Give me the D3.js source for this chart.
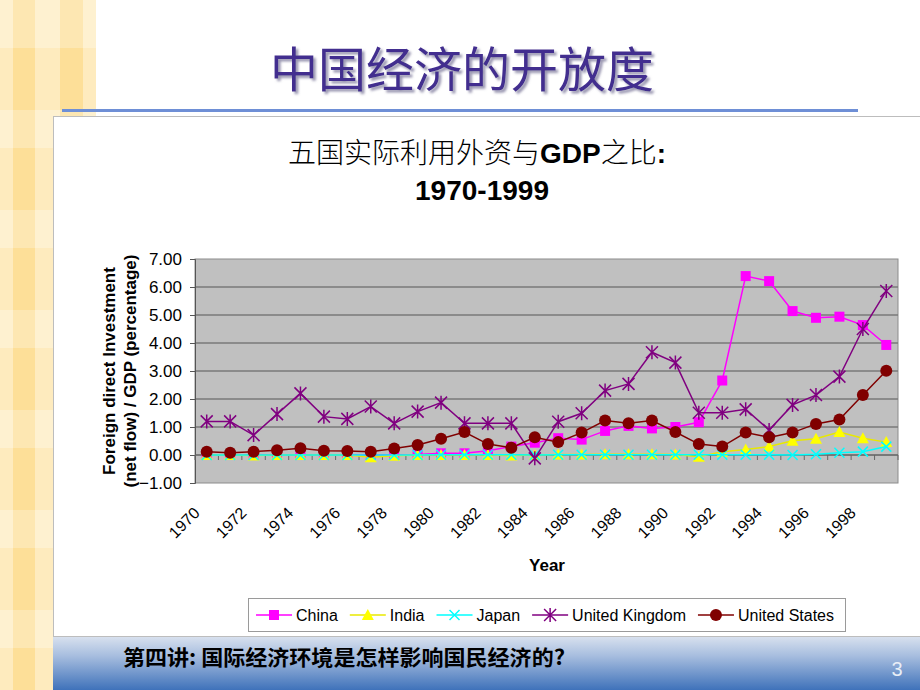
<!DOCTYPE html>
<html><head><meta charset="utf-8">
<script src="https://cdn.jsdelivr.net/npm/d3@7/dist/d3.min.js"></script>
<style>html,body{margin:0;padding:0;background:#fff;}svg{display:block;}</style>
</head><body>
<script>
const years = d3.range(1970, 2000);
const tickYears = [1970,1972,1974,1976,1978,1980,1982,1984,1986,1988,1990,1992,1994,1996,1998];
const yTicks = [-1,0,1,2,3,4,5,6,7];
const china = [0,0,0,0,0,0,0,0,0,0.02,0.06,0.06,0.15,0.3,0.44,0.6,0.55,0.86,1.04,0.95,1.0,1.17,2.66,6.39,6.21,5.14,4.9,4.94,4.64,3.93];
const india = [0,0,-0.02,0,0,0,0,-0.08,-0.03,0,0,0,0,-0.02,0,0.02,0.02,0.03,0.03,0.03,0.02,-0.06,0.12,0.2,0.3,0.51,0.58,0.82,0.6,0.46];
const japan = [0,0,0,0,0,0,0,0,0,0,0.01,0.01,0.01,0.01,0.0,0.01,0.01,0.01,0.01,0.01,0.01,0.01,0.01,0.01,0.01,0.0,0.03,0.08,0.12,0.3];
const uk = [1.2,1.2,0.71,1.46,2.2,1.37,1.29,1.73,1.13,1.55,1.87,1.13,1.13,1.13,-0.12,1.19,1.49,2.3,2.54,3.67,3.3,1.51,1.51,1.63,0.89,1.79,2.14,2.8,4.5,5.86];
const us = [0.12,0.08,0.12,0.17,0.24,0.15,0.14,0.12,0.23,0.36,0.58,0.82,0.39,0.26,0.63,0.46,0.8,1.23,1.13,1.23,0.82,0.39,0.3,0.8,0.63,0.8,1.11,1.27,2.14,3.01];
const seriesNames = ["China","India","Japan","United Kingdom","United States"];
const seriesColors = ["#FF00FF","#E8E800","#00FFFF","#800080","#800000"];
const seriesValues = [china, india, japan, uk, us];
const markers = ["square","triangle","x","star","circle"];

const W = 920, H = 690;
const svg = d3.select("body").append("svg").attr("width", W).attr("height", H);
const defs = svg.append("defs");
const f = defs.append("filter").attr("id","shadow").attr("x","-10%").attr("y","-10%").attr("width","120%").attr("height","130%");
f.append("feDropShadow").attr("dx",2.5).attr("dy",2.5).attr("stdDeviation",0.8).attr("flood-color","#8E8AA8").attr("flood-opacity",0.9);

// left decorative stripe
const stripeG = svg.append("g");
stripeG.append("rect").attr("x",0).attr("y",0).attr("width",96).attr("height",H).attr("fill","#FEF1D0");
[[13,22],[60,23]].forEach(([x,w])=>{
  stripeG.append("rect").attr("x",x).attr("y",0).attr("width",w).attr("height",H).attr("fill","#FDE7B2");
  d3.range(48, H, 100).forEach(y=>{
    stripeG.append("rect").attr("x",x).attr("y",y).attr("width",w).attr("height",62).attr("fill","#FDDF98");
  });
});
[[0,13],[35,25],[83,13]].forEach(([x,w])=>{
  d3.range(48, H, 100).forEach(y=>{
    stripeG.append("rect").attr("x",x).attr("y",y).attr("width",w).attr("height",62).attr("fill","#FEEBBE");
  });
});

// slide title
svg.append("text").attr("x",462).attr("y",87).attr("text-anchor","middle").attr("fill","#432E8F")
  .attr("filter","url(#shadow)")
  .style("font-family","'Noto Sans CJK SC'").style("font-size","48px").style("font-weight","400")
  .text("中国经济的开放度");

// blue rule
svg.append("rect").attr("x",62).attr("y",109).attr("width",796).attr("height",3).attr("fill","#6E8FD6");

// chart box
svg.append("rect").attr("x",53.5).attr("y",116.5).attr("width",880).attr("height",520).attr("fill","#fff").attr("stroke","#BDBDBD");

// bottom bar
const grad = defs.append("linearGradient").attr("id","bar").attr("x1",0).attr("y1",0).attr("x2",0).attr("y2",1);
grad.append("stop").attr("offset","0%").attr("stop-color","#D7E0EE");
grad.append("stop").attr("offset","35%").attr("stop-color","#A8BEDF");
grad.append("stop").attr("offset","100%").attr("stop-color","#3F72BA");
svg.append("rect").attr("x",53).attr("y",637).attr("width",W-53).attr("height",H-637).attr("fill","url(#bar)");
svg.append("text").attr("x",123).attr("y",665).attr("textLength",442).attr("lengthAdjust","spacingAndGlyphs")
  .style("font-family","'Noto Sans CJK SC'").style("font-size","21px").style("font-weight","bold").attr("fill","#000")
  .text("第四讲: 国际经济环境是怎样影响国民经济的?");
svg.append("text").attr("x",897).attr("y",676).attr("text-anchor","middle")
  .style("font-family","Arial, 'Liberation Sans'").style("font-size","20px").attr("fill","#E8EEF6").text("3");

// chart titles
const ct = svg.append("text").attr("x",477).attr("y",163).attr("text-anchor","middle").style("font-size","28px").attr("fill","#000");
ct.append("tspan").style("font-family","'Noto Sans CJK SC'").style("font-weight","300").text("五国实际利用外资与");
ct.append("tspan").style("font-family","Arial, 'Liberation Sans'").style("font-weight","bold").text("GDP");
ct.append("tspan").style("font-family","'Noto Sans CJK SC'").style("font-weight","300").text("之比");
ct.append("tspan").style("font-family","Arial, 'Liberation Sans'").style("font-weight","bold").text(":");
svg.append("text").attr("x",482).attr("y",200).attr("text-anchor","middle")
  .style("font-family","Arial, 'Liberation Sans'").style("font-size","28px").style("font-weight","bold").text("1970-1999");

// plot
const L = 195, R = 898, T = 259, B = 483;
const x = d3.scaleBand().domain(years).range([L, R]);
const xc = d => x(d) + x.bandwidth()/2;
const y = d3.scaleLinear().domain([-1, 7]).range([B, T]);

svg.append("rect").attr("x",L).attr("y",T).attr("width",R-L).attr("height",B-T).attr("fill","#C0C0C0").attr("stroke","#8C8C8C");
svg.append("g").selectAll("line").data(yTicks.filter(v=>v>-1 && v<7)).join("line")
  .attr("x1",L).attr("x2",R).attr("y1",d=>y(d)).attr("y2",d=>y(d)).attr("stroke","#7A7A7A").attr("stroke-width",1.5);

const font = "Arial, 'Liberation Sans', sans-serif";
const yAxis = svg.append("g").attr("transform",`translate(${L},0)`)
  .call(d3.axisLeft(y).tickValues(yTicks).tickFormat(d3.format(".2f")).tickSize(5).tickPadding(8));
yAxis.select(".domain").attr("stroke","#555");
yAxis.selectAll(".tick line").attr("stroke","#555");
yAxis.selectAll("text").style("font-family",font).style("font-size","17px").attr("fill","#000");

// x axis at zero
const xAxis = svg.append("g").attr("transform",`translate(0,${y(0)})`);
xAxis.append("line").attr("x1",L).attr("x2",R).attr("stroke","#666");
xAxis.selectAll("line.t").data(years.concat([2000])).join("line").attr("class","t")
  .attr("x1",(d,i)=> i<30 ? x(d) : R).attr("x2",(d,i)=> i<30 ? x(d) : R).attr("y1",0).attr("y2",5).attr("stroke","#666");
svg.append("g").selectAll("text").data(tickYears).join("text")
  .attr("transform",d=>`translate(${xc(d)-10},${510}) rotate(-45)`)
  .attr("text-anchor","end").attr("dy","0.35em")
  .style("font-family",font).style("font-size","16px").text(d=>d);
svg.append("text").attr("x",547).attr("y",571).attr("text-anchor","middle")
  .style("font-family",font).style("font-size","17px").style("font-weight","bold").text("Year");

// y title
const yt = svg.append("text").attr("transform",`translate(110,${(T+B)/2}) rotate(-90)`).attr("text-anchor","middle")
  .style("font-family",font).style("font-size","17px").style("font-weight","bold");
yt.append("tspan").attr("x",0).attr("dy","0.3em").text("Foreign direct Investment");
yt.append("tspan").attr("x",0).attr("dy","1.25em").text("(net flow) / GDP (percentage)");

// marker drawing
function drawMarker(g, type, color, cx, cy) {
  if (type==="square") {
    g.append("rect").attr("x",cx-5).attr("y",cy-5).attr("width",10).attr("height",10).attr("fill",color);
  } else if (type==="triangle") {
    g.append("path").attr("d",`M${cx},${cy-6}L${cx+6},${cy+5}L${cx-6},${cy+5}Z`).attr("fill","#FFFF00");
  } else if (type==="x") {
    g.append("path").attr("d",`M${cx-5},${cy-5}L${cx+5},${cy+5}M${cx-5},${cy+5}L${cx+5},${cy-5}`).attr("stroke",color).attr("stroke-width",1.5);
  } else if (type==="star") {
    g.append("path").attr("d",`M${cx-6},${cy-6}L${cx+6},${cy+6}M${cx-6},${cy+6}L${cx+6},${cy-6}M${cx},${cy-7}L${cx},${cy+7}`).attr("stroke",color).attr("stroke-width",1.5);
  } else {
    g.append("circle").attr("cx",cx).attr("cy",cy).attr("r",6).attr("fill",color);
  }
}

const line = d3.line().x((d,i)=>xc(years[i])).y(d=>y(d));
seriesValues.forEach((vals, si) => {
  const g = svg.append("g");
  g.append("path").datum(vals).attr("d",line).attr("fill","none").attr("stroke",seriesColors[si]).attr("stroke-width",1.5);
  vals.forEach((v,i)=>drawMarker(g, markers[si], seriesColors[si], xc(years[i]), y(v)));
});

// legend
const lg = svg.append("g");
lg.append("rect").attr("x",248.5).attr("y",598.5).attr("width",597).attr("height",33).attr("fill","#fff").attr("stroke","#9A9A9A");
let lx = 256;
seriesNames.forEach((n, si) => {
  lg.append("line").attr("x1",lx).attr("x2",lx+36).attr("y1",615).attr("y2",615).attr("stroke",seriesColors[si]).attr("stroke-width",1.5);
  drawMarker(lg, markers[si], seriesColors[si], lx+18, 615);
  const t = lg.append("text").attr("x",lx+40).attr("y",615).attr("dy","0.35em")
    .style("font-family",font).style("font-size","16px").text(n);
  lx += 40 + t.node().getComputedTextLength() + 12;
});
</script>
</body></html>
